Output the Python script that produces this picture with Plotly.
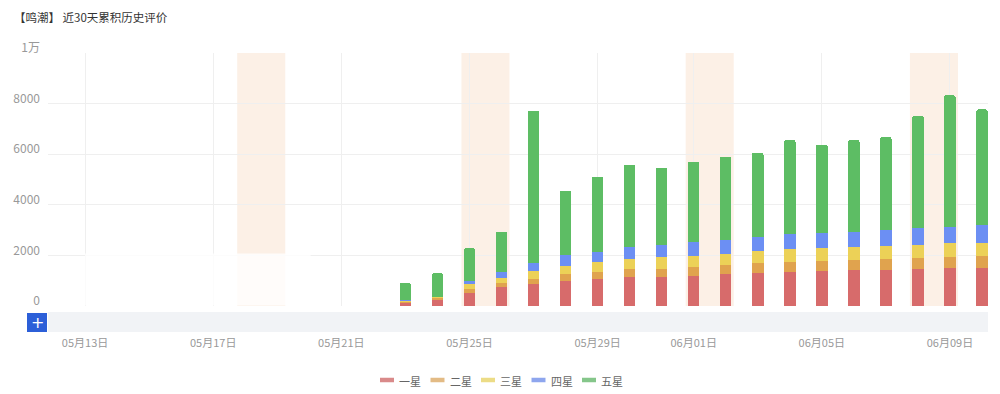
import plotly.graph_objects as go
import pandas as pd

# ---- data ----
dates = [d.strftime("%Y-%m-%d") for d in pd.date_range("2024-05-12", "2024-06-10")]
zeros = [0] * 11
one_star = zeros + [145, 275, 525, 740, 855, 990, 1055, 1135, 1160, 1190, 1250, 1290, 1345, 1370, 1410, 1420, 1450, 1490, 1490]
two_star = zeros + [35, 45, 135, 160, 215, 260, 275, 315, 300, 350, 370, 395, 395, 410, 410, 425, 435, 435, 485]
three_star = zeros + [30, 40, 195, 210, 310, 330, 395, 410, 465, 450, 435, 475, 500, 510, 525, 525, 515, 555, 525]
four_star = zeros + [10, 10, 145, 250, 330, 435, 425, 485, 500, 550, 555, 580, 605, 610, 595, 630, 670, 630, 700]
five_star = zeros + [685, 920, 1280, 1580, 6010, 2530, 2960, 3245, 3045, 3160, 3290, 3320, 3715, 3480, 3620, 3680, 4450, 5220, 4570]

series_names = ["一星", "二星", "三星", "四星", "五星"]
series_values = [one_star, two_star, three_star, four_star, five_star]
colors = ["#d76b6b", "#e0a34e", "#ecd157", "#6c8ff3", "#5dbd64"]
legend_colors = ["#d98a8a", "#e3bb85", "#ecdc86", "#8ea6ee", "#85c68a"]

tick_dates = ["2024-05-13", "2024-05-17", "2024-05-21", "2024-05-25",
              "2024-05-29", "2024-06-01", "2024-06-05", "2024-06-09"]
tick_labels = ["05月13日", "05月17日", "05月21日", "05月25日",
               "05月29日", "06月01日", "06月05日", "06月09日"]
y_ticks = [0, 2000, 4000, 6000, 8000, 10000]
y_labels = ["0", "2000", "4000", "6000", "8000", "1万"]
weekends = [("2024-05-18", "2024-05-19"), ("2024-05-25", "2024-05-26"),
            ("2024-06-01", "2024-06-02"), ("2024-06-08", "2024-06-09")]

FONT = "Noto Sans CJK SC, Noto Sans, sans-serif"
DAY = 86400000

fig = go.Figure()
for name, vals, c in zip(series_names, series_values, colors):
    fig.add_trace(go.Bar(x=dates, y=vals, name=name, marker=dict(color=c, line=dict(width=0)),
                         width=0.36 * DAY, showlegend=False))

shapes = []
for a, b in weekends:
    x0 = pd.Timestamp(a) - pd.Timedelta(hours=6)
    x1 = pd.Timestamp(b) + pd.Timedelta(hours=6)
    shapes.append(dict(type="rect", xref="x", yref="paper", x0=x0, x1=x1, y0=0, y1=1,
                       fillcolor="#fcf0e6", line=dict(width=0), layer="below"))

# pixel helpers for decorations outside the plot
L, R, T, B = 48, 988, 53, 306
px = lambda x: (x - L) / (R - L)
py = lambda y: (B - y) / (B - T)

# faded patch over the early part of the chart
shapes.append(dict(type="rect", xref="x", yref="y", x0="2024-05-13", x1="2024-05-20 01:00",
                   y0=15, y1=2080, fillcolor="rgba(255,255,255,0.78)", line=dict(width=0), layer="above"))
# data zoom slider band
shapes.append(dict(type="rect", xref="paper", yref="paper", x0=0, x1=1, y0=py(312), y1=py(332),
                   fillcolor="#f1f3f6", line=dict(width=0)))
# blue button
shapes.append(dict(type="rect", xref="paper", yref="paper", x0=px(27), x1=px(47), y0=py(313), y1=py(332),
                   fillcolor="#2c5fd8", line=dict(width=0)))

annotations = [dict(text="+", xref="paper", yref="paper", x=px(37), y=py(322.5), showarrow=False,
                    font=dict(size=16, color="white", family="DejaVu Sans"), xanchor="center", yanchor="middle")]

# compact legend (line swatch + label) under the chart
for i, (name, c) in enumerate(zip(series_names, legend_colors)):
    lx = 380 + 50.5 * i
    shapes.append(dict(type="line", xref="paper", yref="paper", x0=px(lx), x1=px(lx + 14),
                       y0=py(380), y1=py(380), line=dict(color=c, width=4.5)))
    annotations.append(dict(text=name, xref="paper", yref="paper", x=px(lx + 17), y=py(380.5),
                            xanchor="left", yanchor="middle", showarrow=False,
                            font=dict(size=11, color="#666", family=FONT)))

fig.update_layout(
    width=1000, height=394,
    margin=dict(l=L, r=1000 - R, t=T, b=394 - B, autoexpand=False),
    paper_bgcolor="white", plot_bgcolor="white",
    barmode="stack", barcornerradius=2, showlegend=False,
    font=dict(family=FONT, size=11, color="#999"),
    title=dict(text="【鸣潮】 近30天累积历史评价", xref="container", yref="container",
               x=0.014, xanchor="left", y=1 - 18 / 394, yanchor="middle",
               font=dict(size=11.5, color="#333", family=FONT)),
    xaxis=dict(type="date", range=["2024-05-11 20:15", "2024-06-10 04:30"],
               tickvals=tick_dates, ticktext=tick_labels,
               ticks="outside", ticklen=27, tickcolor="rgba(0,0,0,0)",
               showgrid=True, gridcolor="#efefef", gridwidth=1,
               showline=False, zeroline=False, automargin=False,
               tickfont=dict(size=11, color="#999")),
    yaxis=dict(range=[0, 10000], tickvals=y_ticks, ticktext=y_labels,
               showgrid=True, gridcolor="#efefef", gridwidth=1,
               zeroline=False, showline=False, ticks="", automargin=False,
               ticklabelstandoff=7, ticklabelshift=-5,
               tickfont=dict(size=12, color="#999")),
    shapes=shapes, annotations=annotations,
)

fig.write_html("out.html", config={"displayModeBar": False},
               post_script="document.body.style.margin='0';document.body.style.padding='0';")
